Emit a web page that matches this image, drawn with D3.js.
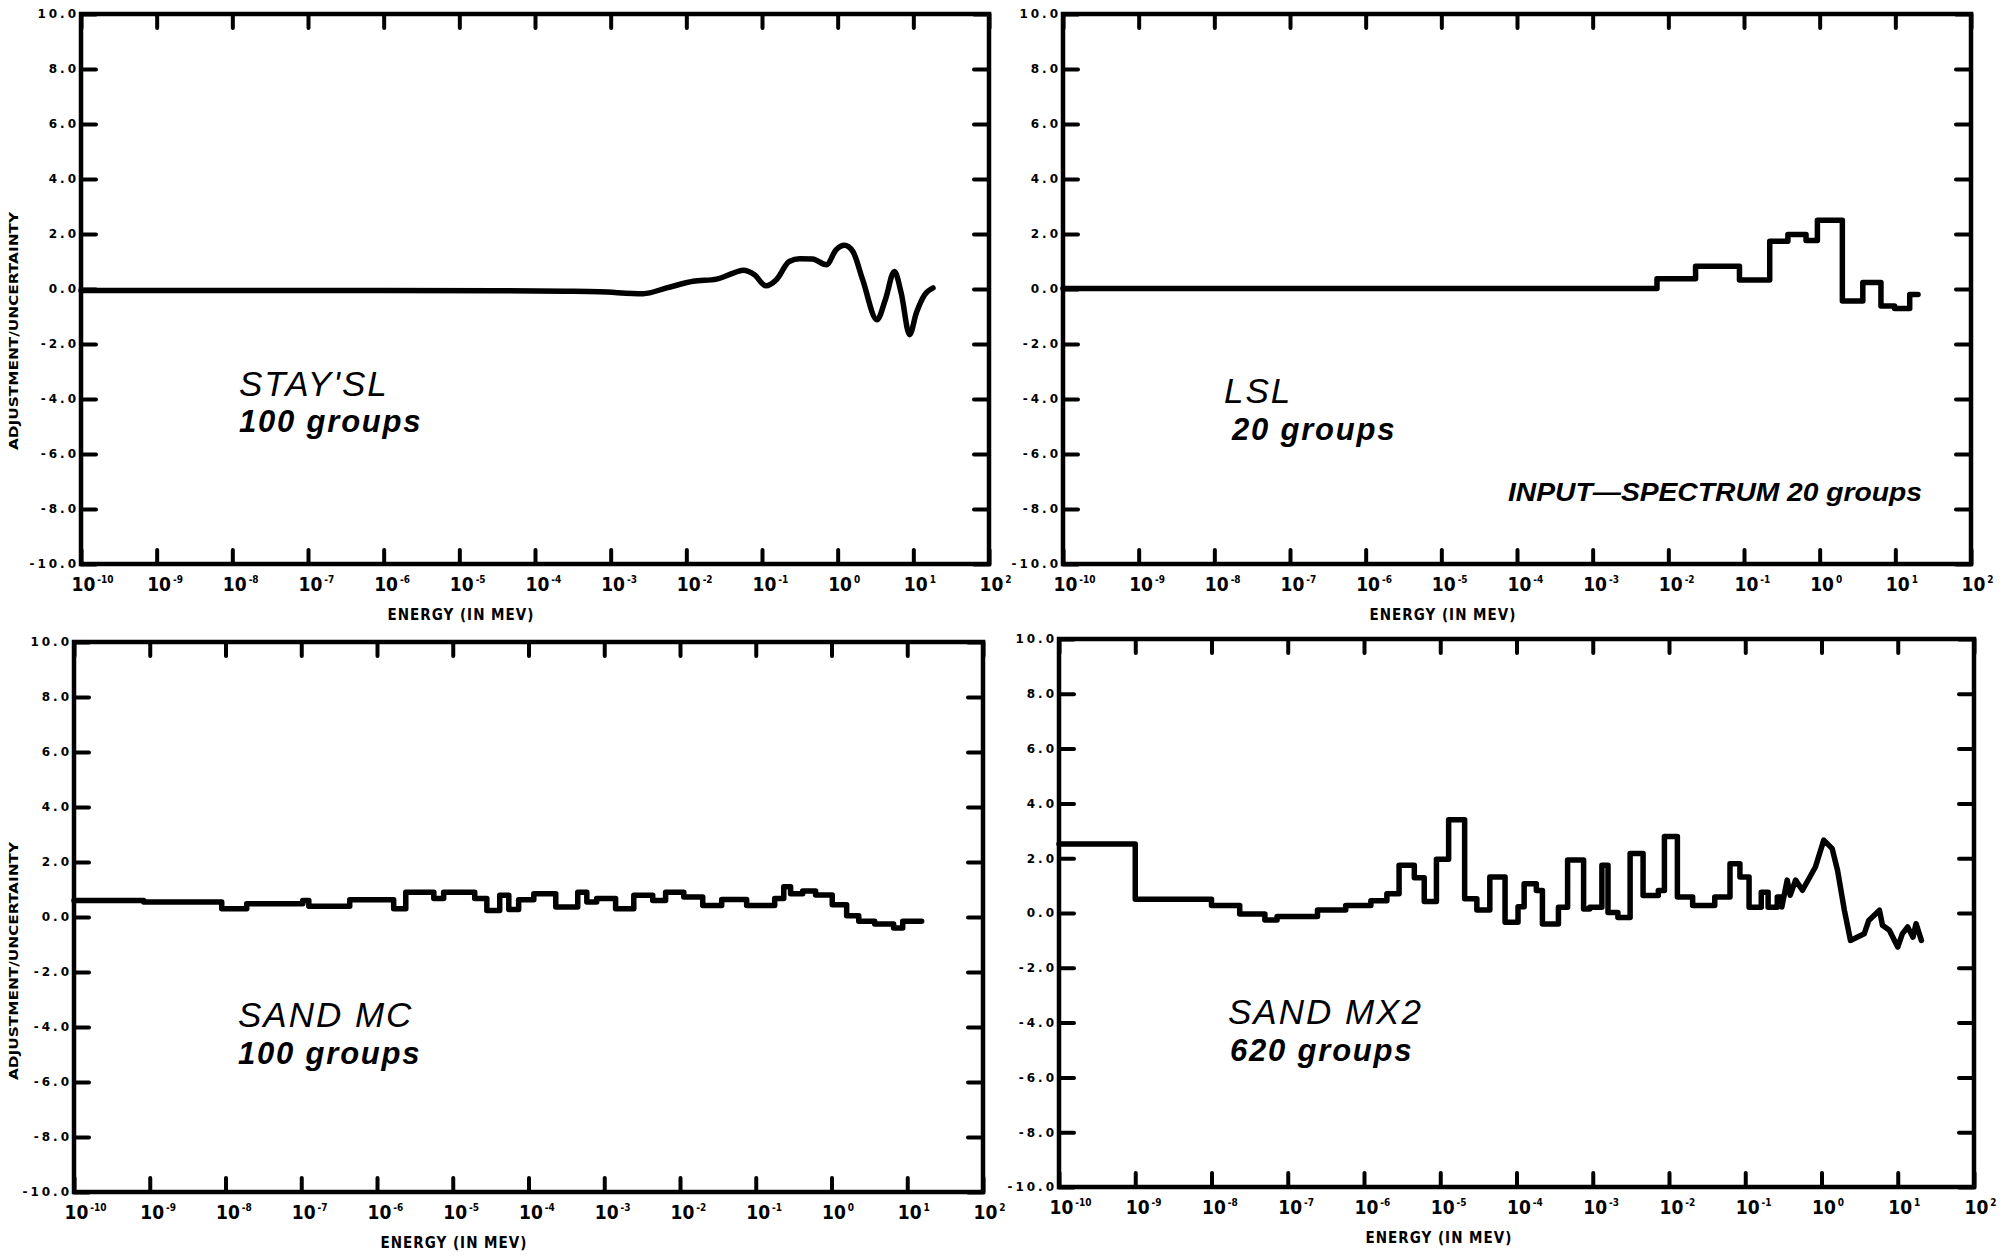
<!DOCTYPE html>
<meta charset="utf-8">
<style type="text/css">

body {
  margin: 0;
  background: #ffffff;
}

svg {
  display: block;
}

.frame {
  fill: none;
  stroke: #000;
  stroke-width: 4.5;
}

.axis .domain {
  display: none;
}

.axis .tick line {
  stroke: #000;
  stroke-width: 4;
  stroke-linecap: round;
}

.yaxis text {
  font-family: "DejaVu Sans", sans-serif;
  font-weight: bold;
  font-size: 12px;
  letter-spacing: 3px;
  fill: #000;
}

.xaxis text {
  font-family: "DejaVu Sans", sans-serif;
  font-weight: bold;
  font-stretch: condensed;
  font-size: 19px;
  fill: #000;
}

.xaxis text tspan {
  font-size: 10px;
}

.curve {
  fill: none;
  stroke: #000;
  stroke-width: 5.5;
  stroke-linejoin: round;
  stroke-linecap: round;
}

.etitle, .ytitle {
  font-family: "DejaVu Sans", sans-serif;
  font-weight: bold;
  fill: #000;
}

.etitle {
  font-size: 15px;
  letter-spacing: 1px;
  font-stretch: condensed;
}

.ytitle {
  font-size: 12px;
}

.name {
  font-family: "Liberation Sans", Arial, sans-serif;
  font-style: italic;
  font-size: 35px;
  letter-spacing: 2px;
}

.groups {
  font-family: "Liberation Sans", Arial, sans-serif;
  font-style: italic;
  font-weight: bold;
  font-size: 31px;
  letter-spacing: 1.8px;
}

.note {
  font-family: "Liberation Sans", Arial, sans-serif;
  font-style: italic;
  font-weight: bold;
  font-size: 26px;
}

</style>
<body>
<script src="https://cdnjs.cloudflare.com/ajax/libs/d3/7.8.5/d3.min.js"></script>
<script type="text/javascript">

// axis values
var decades = d3.range(-10, 3);          // exponents of 10 on the energy axis
var yTicks = [10, 8, 6, 4, 2, 0, -2, -4, -6, -8, -10];

// panel texts
var panelNames = ["STAY'SL", "LSL", "SAND MC", "SAND MX2"];
var panelGroups = ["100 groups", "20 groups", "100 groups", "620 groups"];
var noteText = "INPUT\u2014SPECTRUM 20 groups";
var yTitle = "ADJUSTMENT/UNCERTAINTY";
var xTitle = "ENERGY (IN MEV)";

// STAY'SL, smooth curve (log10 of energy, value)
var staysl_logE = [-10, -8, -6, -4.5, -3.6, -3.15, -2.57, -2.26, -1.91, -1.6, -1.38, -1.25, -1.10, -0.95, -0.81,
  -0.64, -0.5, -0.33, -0.15, -0.02, 0.09, 0.20, 0.33, 0.52, 0.63, 0.75, 0.84, 0.95, 1.04, 1.15, 1.26];
var staysl_val = [-0.05, -0.05, -0.05, -0.06, -0.08, -0.1, -0.17, 0.04, 0.28, 0.36, 0.58, 0.68, 0.52, 0.12, 0.34,
  1.0, 1.1, 1.09, 0.88, 1.43, 1.59, 1.37, 0.34, -1.12, -0.39, 0.64, -0.15, -1.66, -0.87, -0.21, 0.04];

// LSL, group edges (log10 E) and group values
var lsl_edges = [-10, -2.15, -1.64, -1.06, -0.66, -0.42, -0.18, -0.03, 0.30, 0.57, 0.81, 0.99, 1.19, 1.30];
var lsl_val = [0.02, 0.37, 0.83, 0.33, 1.74, 1.98, 1.76, 2.5, -0.44, 0.24, -0.62, -0.71, -0.2];

// SAND MC
var mc_edges = [-10.00, -9.08, -8.05, -7.72, -6.98, -6.90, -6.36, -5.78, -5.62, -5.25, -5.12, -4.71, -4.55, -4.38,
  -4.26, -4.13, -3.93, -3.64, -3.35, -3.23, -3.10, -2.85, -2.61, -2.36, -2.19, -1.95, -1.70, -1.45, -1.12, -0.75,
  -0.63, -0.54, -0.38, -0.21, 0.01, 0.20, 0.36, 0.57, 0.82, 0.94, 1.19];
var mc_val = [0.6, 0.55, 0.3, 0.48, 0.6, 0.39, 0.63, 0.3, 0.9, 0.67, 0.9, 0.67, 0.24, 0.79, 0.27, 0.63, 0.85, 0.36,
  0.9, 0.55, 0.67, 0.3, 0.79, 0.6, 0.9, 0.73, 0.42, 0.64, 0.42, 0.67, 1.1, 0.85, 0.95, 0.8, 0.45, 0.05, -0.15,
  -0.25, -0.4, -0.15];

// SAND MX2, group steps then a dense tail
var mx2_edges = [-10, -9.0, -8.0, -7.63, -7.30, -7.14, -6.61, -6.24, -5.91, -5.70, -5.54, -5.34, -5.21, -5.05,
  -4.89, -4.68, -4.52, -4.35, -4.15, -3.98, -3.90, -3.74, -3.66, -3.45, -3.33, -3.12, -3.04, -2.88, -2.80, -2.67,
  -2.51, -2.34, -2.14, -2.06, -1.89, -1.69, -1.40, -1.20, -1.07, -0.95, -0.79, -0.70, -0.58, -0.52];
var mx2_val = [2.52, 0.50, 0.27, -0.04, -0.26, -0.13, 0.11, 0.27, 0.45, 0.70, 1.74, 1.29, 0.42, 1.96, 3.40, 0.52,
  0.11, 1.31, -0.34, 0.23, 1.07, 0.82, -0.40, 0.21, 1.93, 0.15, 0.21, 1.74, 0.02, -0.16, 2.17, 0.64, 0.82, 2.79,
  0.58, 0.27, 0.58, 1.80, 1.31, 0.21, 0.76, 0.21, 0.58];
var mx2_tail_logE = [-0.52, -0.45, -0.41, -0.34, -0.25, -0.08, 0.03, 0.14, 0.21, 0.30, 0.38, 0.56, 0.62, 0.76,
  0.80, 0.89, 1.00, 1.06, 1.13, 1.20, 1.24, 1.31];
var mx2_tail_val = [0.22, 1.2, 0.65, 1.2, 0.83, 1.68, 2.66, 2.35, 1.56, 0.1, -1.0, -0.76, -0.27, 0.1, -0.45, -0.63,
  -1.24, -0.76, -0.51, -0.88, -0.39, -1.0];

//turns group edges + values into corner points
function stepPoints(edges, vals) {
  var pts = [];
  vals.forEach(function(v, i) {
    pts.push([edges[i], v]);
    pts.push([edges[i + 1], v]);
  });
  return pts;
}

function zipPoints(xs, ys) {
  return xs.map(function(d, i) { return [d, ys[i]]; });
}

var series = [
  { pts: zipPoints(staysl_logE, staysl_val), curve: d3.curveMonotoneX },
  { pts: stepPoints(lsl_edges, lsl_val), curve: d3.curveLinear },
  { pts: stepPoints(mc_edges, mc_val), curve: d3.curveLinear },
  { pts: stepPoints(mx2_edges, mx2_val).concat(zipPoints(mx2_tail_logE, mx2_tail_val)), curve: d3.curveLinear }
];

// panel boxes on the page (the scan is slightly skewed, so they differ a bit)
var layout = [
  { x0: 81, x1: 989, y0: 14, y1: 564, yTitleY: 331, name: [239, 396], groups: [239, 432] },
  { x0: 1063, x1: 1971, y0: 14, y1: 564, name: [1224, 403], groups: [1232, 440] },
  { x0: 74, x1: 983, y0: 642, y1: 1192, yTitleY: 961, name: [238, 1027], groups: [238, 1064] },
  { x0: 1059, x1: 1974, y0: 639, y1: 1187, name: [1228, 1024], groups: [1230, 1061] }
];

var svg = d3.select("body").append("svg")
  .attr("width", 2016)
  .attr("height", 1258);

var tickVals = decades.map(function(k) { return Math.pow(10, k); });

layout.forEach(function(p, i) {
  var g = svg.append("g");

  var x = d3.scaleLog().domain([1e-10, 1e2]).range([p.x0, p.x1]);
  var y = d3.scaleLinear().domain([-10, 10]).range([p.y1, p.y0]);

  //bottom axis with 10^n labels
  var xb = g.append("g").attr("class", "axis xaxis")
    .attr("transform", "translate(0," + p.y1 + ")")
    .call(d3.axisBottom(x).tickValues(tickVals).tickSize(-14).tickFormat(function() { return "10"; }));
  xb.selectAll(".tick text")
    .attr("text-anchor", "start")
    .attr("x", -10)
    .attr("y", 27)
    .attr("dy", null)
    .append("tspan")
    .attr("dx", 2)
    .attr("dy", -8)
    .text(function(d) { return Math.round(Math.log10(d)); });

  //top ticks
  g.append("g").attr("class", "axis")
    .attr("transform", "translate(0," + p.y0 + ")")
    .call(d3.axisTop(x).tickValues(tickVals).tickSize(-14).tickFormat(""));

  //left axis
  g.append("g").attr("class", "axis yaxis")
    .attr("transform", "translate(" + p.x0 + ",0)")
    .call(d3.axisLeft(y).tickValues(yTicks).tickSize(-15).tickPadding(2)
      .tickFormat(function(d) { return d.toFixed(1); }));

  //right ticks
  g.append("g").attr("class", "axis")
    .attr("transform", "translate(" + p.x1 + ",0)")
    .call(d3.axisRight(y).tickValues(yTicks).tickSize(-15).tickFormat(""));

  g.append("rect")
    .attr("class", "frame")
    .attr("x", p.x0)
    .attr("y", p.y0)
    .attr("width", p.x1 - p.x0)
    .attr("height", p.y1 - p.y0);

  var line = d3.line()
    .x(function(d) { return x(Math.pow(10, d[0])); })
    .y(function(d) { return y(d[1]); })
    .curve(series[i].curve);

  g.append("path")
    .attr("class", "curve")
    .attr("d", line(series[i].pts));

  g.append("text")
    .attr("class", "etitle")
    .attr("x", p.x0 + 380)
    .attr("y", p.y1 + 56)
    .attr("text-anchor", "middle")
    .text(xTitle);

  if (p.yTitleY) {
    g.append("text")
      .attr("class", "ytitle")
      .attr("transform", "translate(18," + p.yTitleY + ") rotate(-90)")
      .attr("text-anchor", "middle")
      .attr("textLength", 238)
      .attr("lengthAdjust", "spacingAndGlyphs")
      .text(yTitle);
  }

  g.append("text")
    .attr("class", "name")
    .attr("x", p.name[0])
    .attr("y", p.name[1])
    .text(panelNames[i]);

  g.append("text")
    .attr("class", "groups")
    .attr("x", p.groups[0])
    .attr("y", p.groups[1])
    .text(panelGroups[i]);
});

svg.append("text")
  .attr("class", "note")
  .attr("x", 1508)
  .attr("y", 501)
  .attr("textLength", 414)
  .attr("lengthAdjust", "spacingAndGlyphs")
  .text(noteText);

</script>
</body>
